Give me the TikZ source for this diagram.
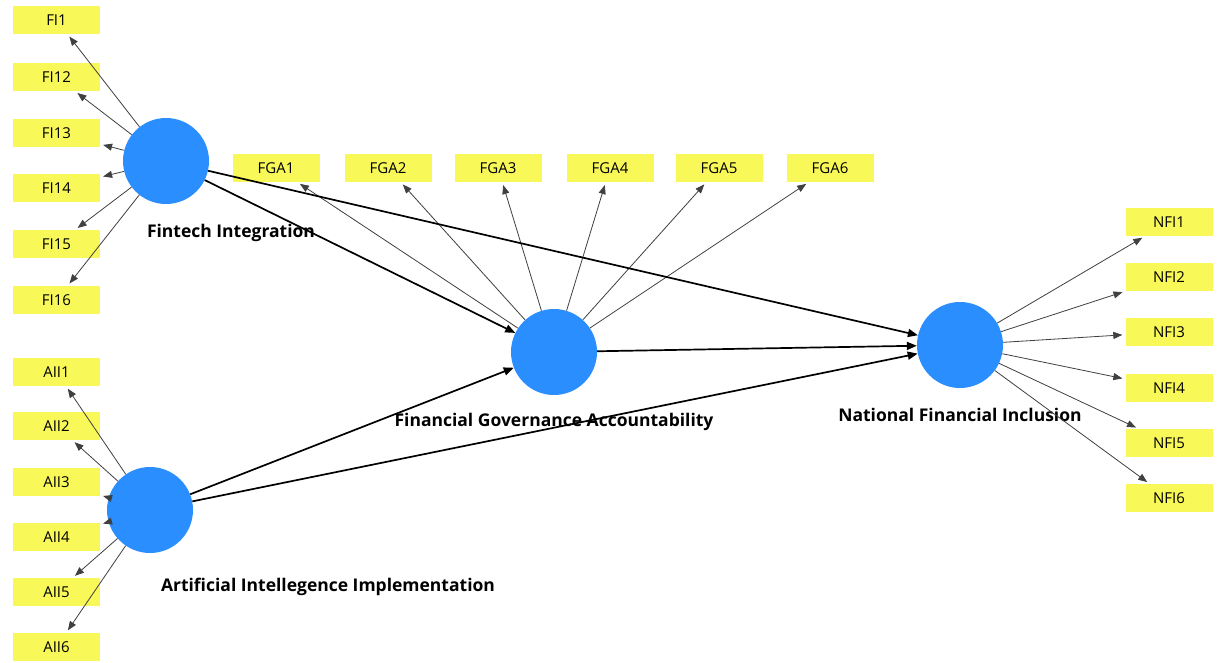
\documentclass[tikz,border=0pt]{standalone}
\usepackage{fontspec}
\setmainfont{Open Sans}
\usetikzlibrary{arrows.meta}
\definecolor{indyellow}{RGB}{248,248,88}
\definecolor{latblue}{RGB}{42,142,255}
\begin{document}
\begin{tikzpicture}[x=1pt,y=-1pt,
  ind/.style={fill=indyellow, minimum width=87pt, minimum height=28pt, inner sep=0pt, font=\fontsize{15}{17}\selectfont},
  lat/.style={circle, fill=latblue, minimum size=86pt, inner sep=0pt},
  lbl/.style={font=\bfseries\fontsize{17.5}{20}\selectfont, inner sep=0pt},
  refl/.style={draw=black!75, line width=0.8pt, -{Triangle[length=9pt,width=7pt]}, shorten >=3pt},
  struct/.style={draw=black, line width=1.7pt, -{Triangle[length=10pt,width=8pt]}}
]
\useasboundingbox (0,0) rectangle (1218,662);
\fill[white] (0,0) rectangle (1218,662);

% latent variables
\node[lat] (fi)  at (166,161) {};
\node[lat] (aii) at (150,510) {};
\node[lat] (fga) at (554,352) {};
\node[lat] (nfi) at (960,345) {};

% labels
\node[lbl] (lfi)  at (231,233) {Fintech Integration};
\node[lbl] (laii) at (328,587) {Artificial Intellegence Implementation};
\node[lbl] (lfga) at (554,422) {Financial Governance Accountability};
\node[lbl] (lnfi) at (960,415) {National Financial Inclusion};

% FI indicators
\node[ind] (fi1)  at (56.5,20)  {FI1};
\node[ind] (fi12) at (56.5,77)  {FI12};
\node[ind] (fi13) at (56.5,133) {FI13};
\node[ind] (fi14) at (56.5,188) {FI14};
\node[ind] (fi15) at (56.5,244) {FI15};
\node[ind] (fi16) at (56.5,300) {FI16};

% AII indicators
\node[ind] (aii1) at (56.5,372) {AII1};
\node[ind] (aii2) at (56.5,426) {AII2};
\node[ind] (aii3) at (56.5,482) {AII3};
\node[ind] (aii4) at (56.5,537) {AII4};
\node[ind] (aii5) at (56.5,592) {AII5};
\node[ind] (aii6) at (56.5,647) {AII6};

% FGA indicators
\node[ind] (fga1) at (276,168) {FGA1};
\node[ind] (fga2) at (388,168) {FGA2};
\node[ind] (fga3) at (498,168) {FGA3};
\node[ind] (fga4) at (610,168) {FGA4};
\node[ind] (fga5) at (719,168) {FGA5};
\node[ind] (fga6) at (830,168) {FGA6};

% NFI indicators
\node[ind] (nfi1) at (1169,222) {NFI1};
\node[ind] (nfi2) at (1169,277) {NFI2};
\node[ind] (nfi3) at (1169,332) {NFI3};
\node[ind] (nfi4) at (1169,388) {NFI4};
\node[ind] (nfi5) at (1169,443) {NFI5};
\node[ind] (nfi6) at (1169,498) {NFI6};

% reflective arrows
\foreach \i in {fi1,fi12,fi13,fi14,fi15,fi16} \draw[refl] (fi) -- (\i);
\foreach \i in {aii1,aii2,aii3,aii4,aii5,aii6} \draw[refl] (aii) -- (\i);
\foreach \i in {fga1,fga2,fga3,fga4,fga5,fga6} \draw[refl] (fga) -- (\i);
\foreach \i in {nfi1,nfi2,nfi3,nfi4,nfi5,nfi6} \draw[refl] (nfi) -- (\i);

% structural paths
\draw[struct] (fi) -- (fga);
\draw[struct] (fi) -- (nfi);
\draw[struct] (aii) -- (fga);
\draw[struct] (aii) -- (nfi);
\draw[struct] (fga) -- (nfi);
\end{tikzpicture}
\end{document}
